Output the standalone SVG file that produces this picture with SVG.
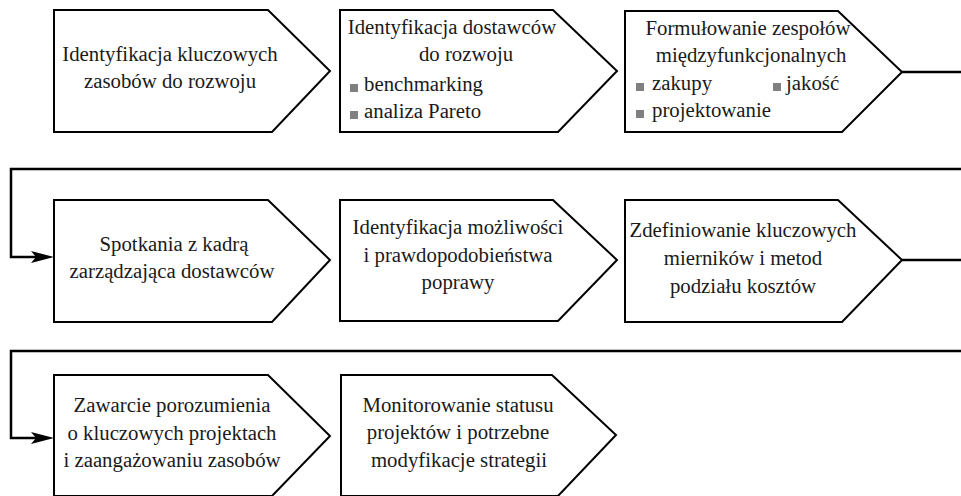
<svg xmlns="http://www.w3.org/2000/svg" width="961" height="496" viewBox="0 0 961 496">
<style>
.box{fill:#fff;stroke:#000;stroke-width:2;stroke-linejoin:miter}
text{font-family:'Liberation Serif','Times New Roman',serif;font-size:20.8px;fill:#1a1a1a;text-anchor:middle}
.l{text-anchor:start}
.b{fill:#808080}
.c{fill:none;stroke:#000;stroke-width:2.5}
</style>
<defs>
<path id="ah" d="M0,0 L-23,-6 L-18,0 L-23,6 Z" fill="#000"/>
</defs>
<rect width="961" height="496" fill="#fff"/>
<g id="connectors">
<path class="c" d="M902,72 H961"/>
<path class="c" d="M961,169 H11 V257 H40"/>
<use href="#ah" x="54" y="257"/>
<path class="c" d="M902,260 H961"/>
<path class="c" d="M961,351 H11 V438 H40"/>
<use href="#ah" x="54" y="438"/>
</g>
<g id="n1">
<path class="box" d="M54,10 H268 L330,71 L272,132 H54 Z"/>
<text x="170" y="61">Identyfikacja kluczowych</text>
<text x="170" y="88">zasobów do rozwoju</text>
</g>
<g id="n2">
<path class="box" d="M340,10 H553 L617,71 L558,132 H340 Z"/>
<text x="452" y="34">Identyfikacja dostawców</text>
<text x="466" y="61">do rozwoju</text>
<rect class="b" x="350" y="84" width="8" height="8"/>
<text class="l" x="364" y="91">benchmarking</text>
<rect class="b" x="350" y="111" width="8" height="8"/>
<text class="l" x="364" y="118">analiza Pareto</text>
</g>
<g id="n3">
<path class="box" d="M625,11 H838 L902,72 L842,132 H625 Z"/>
<text x="748" y="35">Formułowanie zespołów</text>
<text x="751" y="62">międzyfunkcjonalnych</text>
<rect class="b" x="636" y="83" width="8" height="8"/>
<text class="l" x="652" y="90">zakupy</text>
<rect class="b" x="773" y="83" width="8" height="8"/>
<text class="l" x="786" y="90">jakość</text>
<rect class="b" x="636" y="110" width="8" height="8"/>
<text class="l" x="652" y="117">projektowanie</text>
</g>
<g id="n4">
<path class="box" d="M54,200 H268 L330,260 L272,322 H54 Z"/>
<text x="174" y="251">Spotkania z kadrą</text>
<text x="172" y="278">zarządzająca dostawców</text>
</g>
<g id="n5">
<path class="box" d="M340,200 H553 L617,260 L558,321 H340 Z"/>
<text x="458" y="234">Identyfikacja możliwości</text>
<text x="458" y="262">i prawdopodobieństwa</text>
<text x="458" y="289">poprawy</text>
</g>
<g id="n6">
<path class="box" d="M625,200 H838 L902,260 L842,322 H625 Z"/>
<text x="743" y="237">Zdefiniowanie kluczowych</text>
<text x="743" y="265">mierników i metod</text>
<text x="743" y="293">podziału kosztów</text>
</g>
<g id="n7">
<path class="box" d="M54,375 H268 L330,436 L272,496 H54 Z"/>
<text x="172" y="412">Zawarcie porozumienia</text>
<text x="172" y="440">o kluczowych projektach</text>
<text x="172" y="467">i zaangażowaniu zasobów</text>
</g>
<g id="n8">
<path class="box" d="M341,375 H552 L616,435 L558,496 H341 Z"/>
<text x="458" y="412">Monitorowanie statusu</text>
<text x="458" y="439">projektów i potrzebne</text>
<text x="459" y="467">modyfikacje strategii</text>
</g>
</svg>
